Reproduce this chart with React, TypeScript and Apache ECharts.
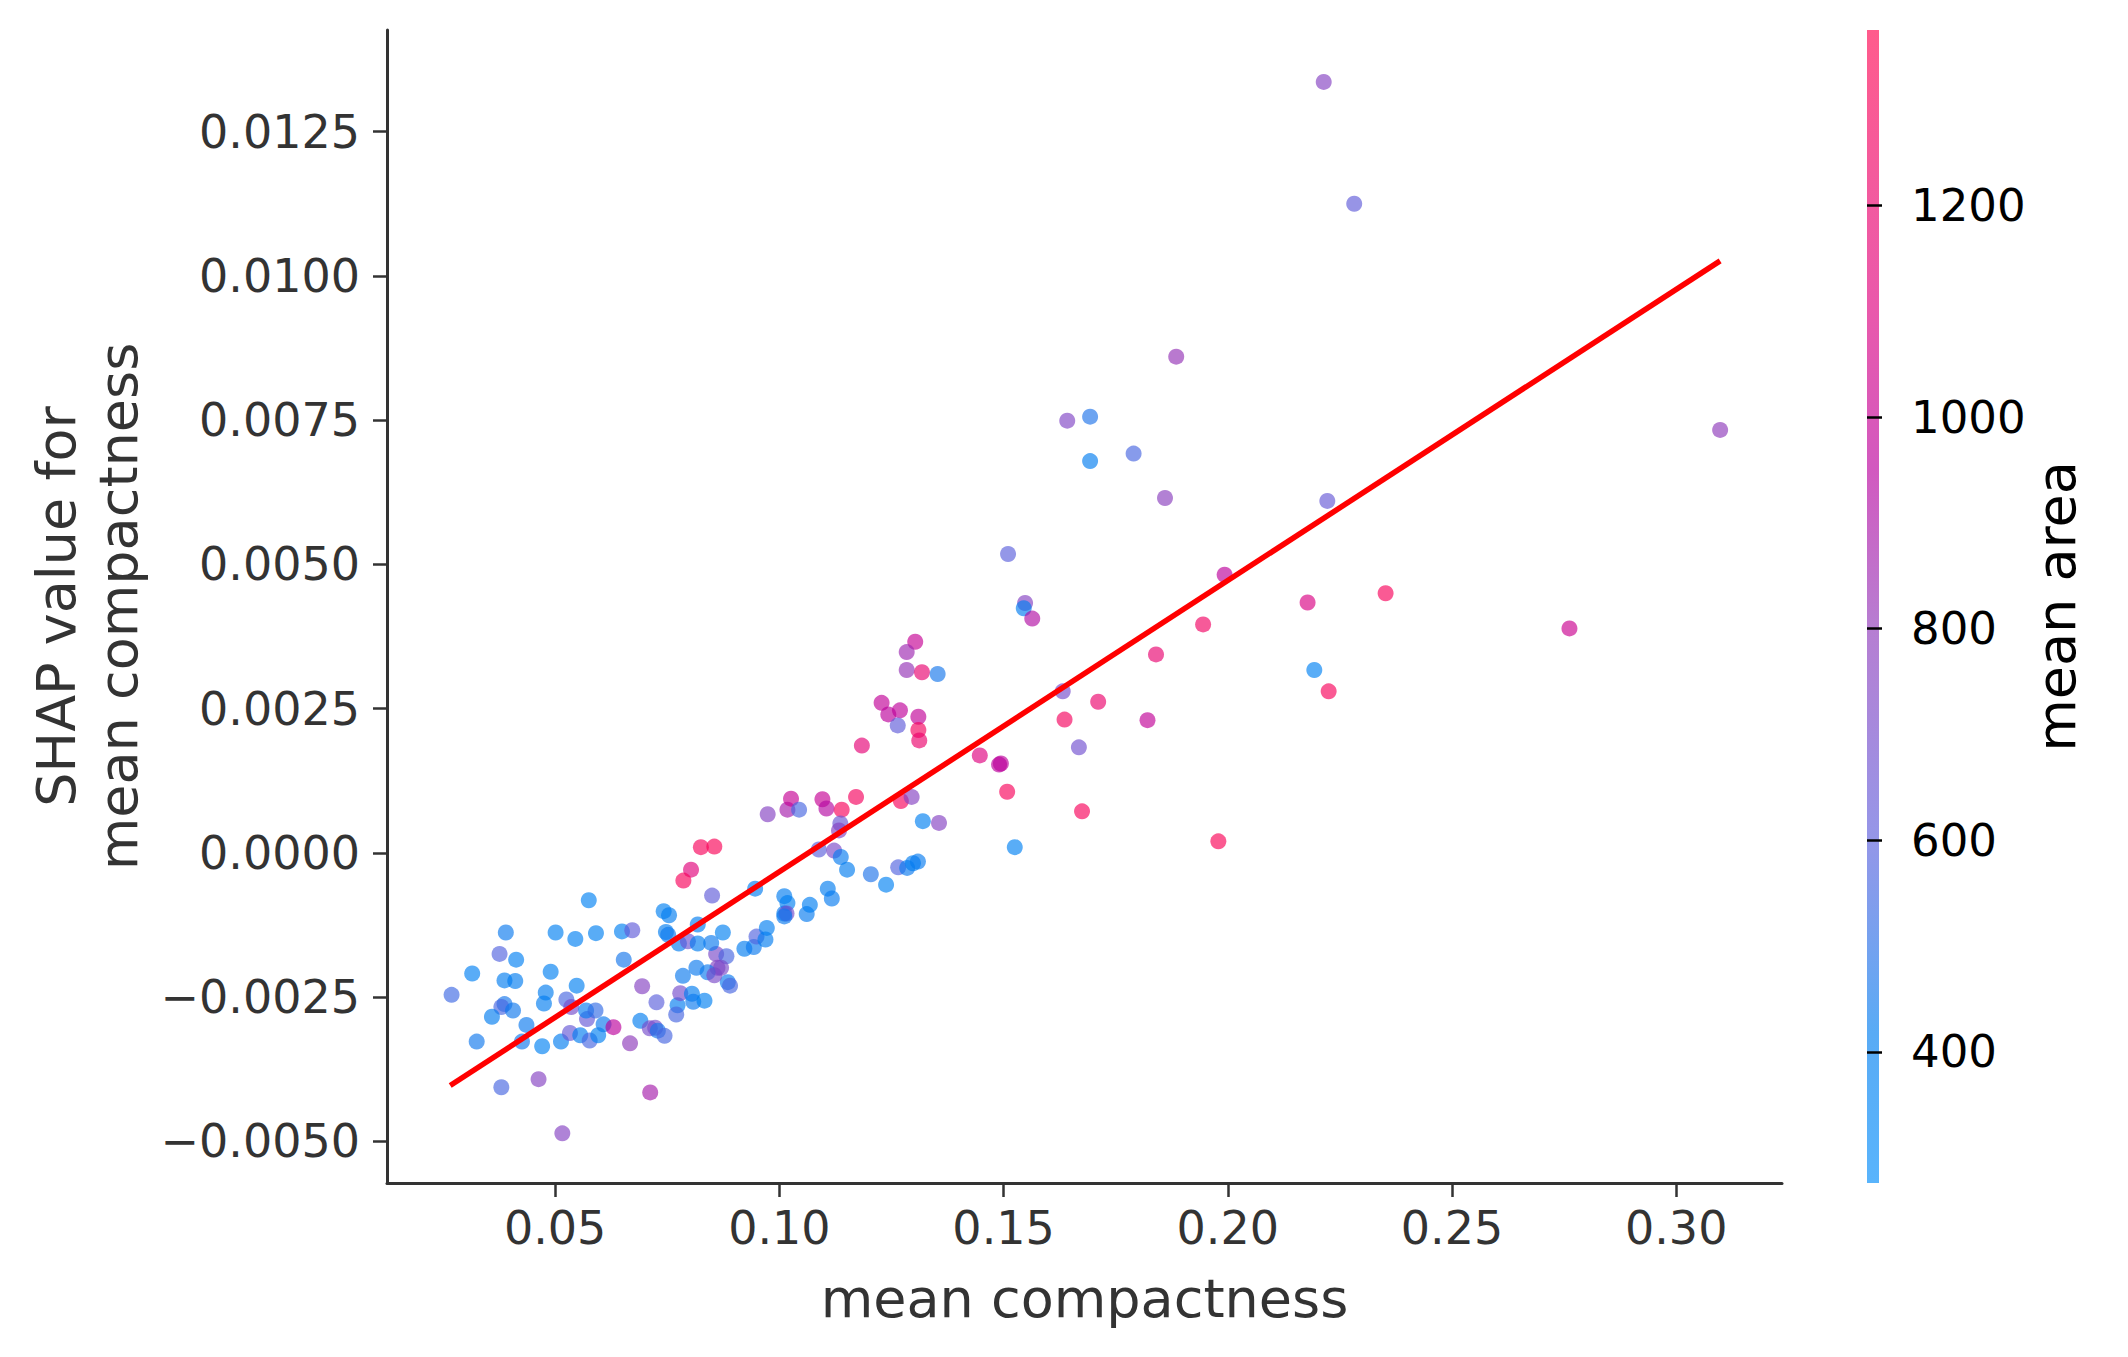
import React, { useEffect, useRef } from "react";
import * as echarts from "echarts";

// ---- data ----
const compactness = [
  0.2214, 0.2282, 0.1885, 0.3098, 0.1642, 0.1693, 0.1693, 0.179, 0.186, 0.2222,
  0.151, 0.1993, 0.1548, 0.1545, 0.1564, 0.2178, 0.2352, 0.1945, 0.2762, 0.184,
  0.2193, 0.2225, 0.1632, 0.1711, 0.1636, 0.1821, 0.1668, 0.1494, 0.1508, 0.1675,
  0.1979, 0.1525,
  0.1303, 0.1284, 0.1284, 0.1318, 0.1353, 0.1228, 0.1243, 0.1269, 0.1264, 0.131,
  0.131, 0.1312, 0.1184, 0.1447, 0.149,
  0.0974, 0.1018, 0.1026, 0.1044, 0.1096, 0.1105, 0.1139, 0.1171, 0.1136, 0.1133,
  0.1271, 0.1295, 0.132, 0.1356, 0.0825, 0.0855, 0.0803, 0.0786, 0.1088, 0.1122,
  0.1137, 0.1151, 0.1204, 0.1238, 0.1265, 0.1285, 0.1298, 0.1309,
  0.085, 0.0946, 0.1011, 0.1018, 0.1011, 0.1016, 0.1011, 0.1061, 0.1068, 0.1108,
  0.1117, 0.0874, 0.0922, 0.0943, 0.0949, 0.0972, 0.0969, 0.0859, 0.0882, 0.0862,
  0.087, 0.0885, 0.089,
  0.0575, 0.039, 0.0501, 0.0545, 0.0591, 0.0649, 0.0672, 0.0742, 0.0754, 0.0747,
  0.0752, 0.0776, 0.0796, 0.0818, 0.0818, 0.0848, 0.0376, 0.0413, 0.0315, 0.0387,
  0.0411, 0.049, 0.0653, 0.0548, 0.0479, 0.0475, 0.0525, 0.0536, 0.0269, 0.0387,
  0.038, 0.0406, 0.0359, 0.0436, 0.0325, 0.0426, 0.0471, 0.0513, 0.0533, 0.0556,
  0.0577, 0.0596, 0.0571, 0.0569, 0.059, 0.0608, 0.063, 0.0667, 0.069, 0.0694,
  0.0726, 0.0711, 0.0723, 0.0729, 0.0744, 0.0773, 0.077, 0.0779, 0.0785, 0.0805,
  0.0808, 0.0815, 0.0833, 0.084, 0.038, 0.0463, 0.0712, 0.0516, 0.0855,
];

const shapValues = [
  0.01336, 0.01125, 0.0086, 0.00733, 0.00749, 0.00756, 0.00679, 0.00692, 0.00615, 0.0061,
  0.00518, 0.00482, 0.00433, 0.00424, 0.00406, 0.00434, 0.0045, 0.00396, 0.00389, 0.00344,
  0.00317, 0.0028, 0.0028, 0.00262, 0.00231, 0.0023, 0.00183, 0.00155, 0.00106, 0.00072,
  0.0002, 0.0001,
  0.00366, 0.00348, 0.00317, 0.00313, 0.0031, 0.0026, 0.0024, 0.00247, 0.00221, 0.00236,
  0.00213, 0.00195, 0.00186, 0.00169, 0.00153,
  0.00067, 0.00075, 0.00094, 0.00075, 0.00093, 0.00077, 0.00075, 0.00097, 0.00051, 0.00039,
  0.0009, 0.00097, 0.00055, 0.00052, 0.0001, 0.00011, -0.00029, -0.00048, 0.00006, 0.00004,
  -0.00007, -0.00029, -0.00037, -0.00055, -0.00025, -0.00026, -0.00018, -0.00015,
  -0.00074, -0.00062, -0.00075, -0.00087, -0.00105, -0.00105, -0.0011, -0.00106, -0.0009, -0.00062,
  -0.00079, -0.00138, -0.00166, -0.00163, -0.00145, -0.0013, -0.0015, -0.00175, -0.00179, -0.00199,
  -0.00199, -0.00224, -0.0023,
  -0.00082, -0.00138, -0.00138, -0.00149, -0.00139, -0.00136, -0.00134, -0.00101, -0.00108, -0.00137,
  -0.00142, -0.00157, -0.00153, -0.00157, -0.00124, -0.00156, -0.00175, -0.00185, -0.00209, -0.00221,
  -0.00222, -0.00206, -0.00185, -0.0023, -0.00242, -0.00261, -0.00254, -0.00267, -0.00246, -0.00262,
  -0.00267, -0.00273, -0.00284, -0.00298, -0.00327, -0.00327, -0.00335, -0.00327, -0.00312, -0.00316,
  -0.00325, -0.00316, -0.00288, -0.00273, -0.00273, -0.00297, -0.00302, -0.0033, -0.00291, -0.00231,
  -0.00259, -0.00304, -0.00303, -0.00308, -0.00317, -0.00264, -0.0028, -0.00243, -0.00213, -0.00244,
  -0.00258, -0.00199, -0.00256, -0.00207, -0.00406, -0.00392, -0.00415, -0.00486, -0.00212,
];

const meanArea = [
  760, 620, 820, 800, 740, 480, 420, 560, 780, 640,
  600, 960, 760, 420, 920, 1080, 1300, 1250, 1020, 1180,
  380, 1300, 700, 1200, 1280, 980, 680, 960, 1300, 1300,
  1320, 380,
  1000, 850, 820, 1180, 460, 980, 960, 970, 620, 980,
  1280, 1200, 1150, 1100, 960,
  760, 880, 1000, 560, 1000, 930, 1300, 1280, 650, 760,
  1300, 760, 400, 760, 1300, 1320, 1120, 1300, 600, 720,
  430, 420, 480, 380, 580, 440, 420, 430,
  620, 420, 420, 400, 430, 700, 440, 430, 410, 420,
  430, 400, 420, 440, 580, 410, 420, 720, 560, 760,
  720, 440, 560,
  380, 440, 400, 390, 400, 400, 620, 400, 420, 420,
  440, 420, 660, 420, 420, 440, 580, 390, 390, 420,
  420, 400, 460, 400, 420, 420, 560, 700, 540, 460,
  560, 450, 420, 440, 450, 450, 380, 420, 640, 420,
  560, 400, 640, 430, 520, 440, 960, 800, 420, 760,
  600, 700, 700, 460, 560, 420, 560, 700, 440, 420,
  440, 440, 400, 440, 560, 760, 880, 760, 720,
];

const trendX = [0.0266, 0.3098];
const trendY = [-0.00403, 0.01026];

const xTicks = [0.05, 0.1, 0.15, 0.2, 0.25, 0.3];
const yTicks = [-0.005, -0.0025, 0, 0.0025, 0.005, 0.0075, 0.01, 0.0125];
const areaTicks = [400, 600, 800, 1000, 1200];
const areaMin = 276;
const areaMax = 1366;

// colour map (blue -> purple -> red), positions as fraction of the colour range
const cmapPos = [0, 0.13, 0.3, 0.48, 0.62, 0.76, 1];
const cmapRGB = [
  [0, 140, 250],
  [0, 125, 240],
  [92, 94, 220],
  [142, 57, 186],
  [185, 0, 157],
  [223, 0, 125],
  [255, 2, 78],
];
const ALPHA = 0.65;

function cmap(v: number): number[] {
  let f = (v - areaMin) / (areaMax - areaMin);
  f = Math.max(0, Math.min(1, f));
  for (let i = 0; i < cmapPos.length - 1; i++) {
    if (f <= cmapPos[i + 1]) {
      const t = (f - cmapPos[i]) / (cmapPos[i + 1] - cmapPos[i]);
      return cmapRGB[i].map((c, k) => Math.round(c + (cmapRGB[i + 1][k] - c) * t));
    }
  }
  return cmapRGB[cmapRGB.length - 1];
}

function pastel(c: number[]): string {
  const b = c.map((x) => Math.round(ALPHA * x + (1 - ALPHA) * 255));
  return `rgb(${b[0]},${b[1]},${b[2]})`;
}

const FONT = "DejaVu Sans";
const AXIS_COLOR = "#333333";

export default function App() {
  const ref = useRef<HTMLDivElement>(null);

  useEffect(() => {
    const chart = echarts.init(ref.current!, null, { renderer: "svg" });

    const points = compactness.map((x, i) => [x, shapValues[i], meanArea[i]]);
    const trend = trendX.map((x, i) => [x, trendY[i]]);

    const gradStops = cmapPos.map((p, i) => ({ offset: p, color: pastel(cmapRGB[i]) }));

    const option: any = {
      animation: false,
      backgroundColor: "#ffffff",
      textStyle: { fontFamily: FONT },
      grid: [
        { left: 387, top: 30, width: 1395, height: 1153, containLabel: false },
        { left: 1867, top: 30, width: 12, height: 1153, containLabel: false },
      ],
      xAxis: [
        {
          type: "value",
          gridIndex: 0,
          min: 0.0125,
          max: 0.3236,
          axisLine: { show: true, onZero: false, lineStyle: { color: AXIS_COLOR, width: 3 } },
          axisTick: {
            show: true,
            customValues: xTicks,
            length: 14,
            lineStyle: { color: AXIS_COLOR, width: 2.5 },
          },
          axisLabel: {
            customValues: xTicks,
            formatter: (v: number) => v.toFixed(2),
            fontSize: 46,
            color: AXIS_COLOR,
            fontFamily: FONT,
            margin: 22,
          },
          splitLine: { show: false },
          name: "mean compactness",
          nameLocation: "middle",
          nameGap: 88,
          nameTextStyle: { fontSize: 54, color: AXIS_COLOR, fontFamily: FONT },
        },
        {
          type: "value",
          gridIndex: 1,
          min: 0,
          max: 1,
          show: false,
        },
      ],
      yAxis: [
        {
          type: "value",
          gridIndex: 0,
          min: -0.00572,
          max: 0.01426,
          axisLine: { show: true, onZero: false, lineStyle: { color: AXIS_COLOR, width: 3 } },
          axisTick: {
            show: true,
            customValues: yTicks,
            length: 14,
            lineStyle: { color: AXIS_COLOR, width: 2.5 },
          },
          axisLabel: {
            customValues: yTicks,
            formatter: (v: number) =>
              v < 0 ? "\u2212" + Math.abs(v).toFixed(4) : Math.abs(v).toFixed(4),
            fontSize: 46,
            color: AXIS_COLOR,
            fontFamily: FONT,
            margin: 27,
          },
          splitLine: { show: false },
          name: "SHAP value for\nmean compactness",
          nameLocation: "middle",
          nameRotate: 90,
          nameGap: 238,
          nameTextStyle: { fontSize: 54, color: AXIS_COLOR, fontFamily: FONT, lineHeight: 62 },
        },
        {
          type: "value",
          gridIndex: 1,
          position: "right",
          min: areaMin,
          max: areaMax,
          axisLine: { show: false },
          axisTick: {
            show: true,
            customValues: areaTicks,
            length: 15,
            lineStyle: { color: "#000000", width: 2.5 },
          },
          axisLabel: {
            customValues: areaTicks,
            formatter: (v: number) => String(Math.round(v)),
            fontSize: 45,
            color: "#000000",
            fontFamily: FONT,
            margin: 32,
          },
          splitLine: { show: false },
          name: "mean area",
          nameLocation: "middle",
          nameRotate: 90,
          nameGap: 136,
          nameTextStyle: { fontSize: 54, color: "#000000", fontFamily: FONT },
        },
      ],
      graphic: [
        {
          type: "rect",
          shape: { x: 1867, y: 30, width: 12, height: 1153 },
          style: { fill: new echarts.graphic.LinearGradient(0, 1, 0, 0, gradStops) },
          z: 0,
        },
      ],
      series: [
        {
          type: "scatter",
          xAxisIndex: 0,
          yAxisIndex: 0,
          data: points,
          symbol: "circle",
          symbolSize: 16,
          itemStyle: {
            color: (p: any) => {
              const c = cmap(p.value[2]);
              return `rgb(${c[0]},${c[1]},${c[2]})`;
            },
            opacity: ALPHA,
            borderWidth: 0,
          },
          z: 2,
        },
        {
          type: "line",
          xAxisIndex: 0,
          yAxisIndex: 0,
          data: trend,
          symbol: "none",
          lineStyle: { color: "#ff0000", width: 5.5 },
          z: 3,
        },
      ],
    };

    chart.setOption(option);
    return () => chart.dispose();
  }, []);

  return (
    <div
      ref={ref}
      style={{ position: "fixed", left: 0, top: 0, width: 2128, height: 1357, background: "#fff" }}
    />
  );
}
